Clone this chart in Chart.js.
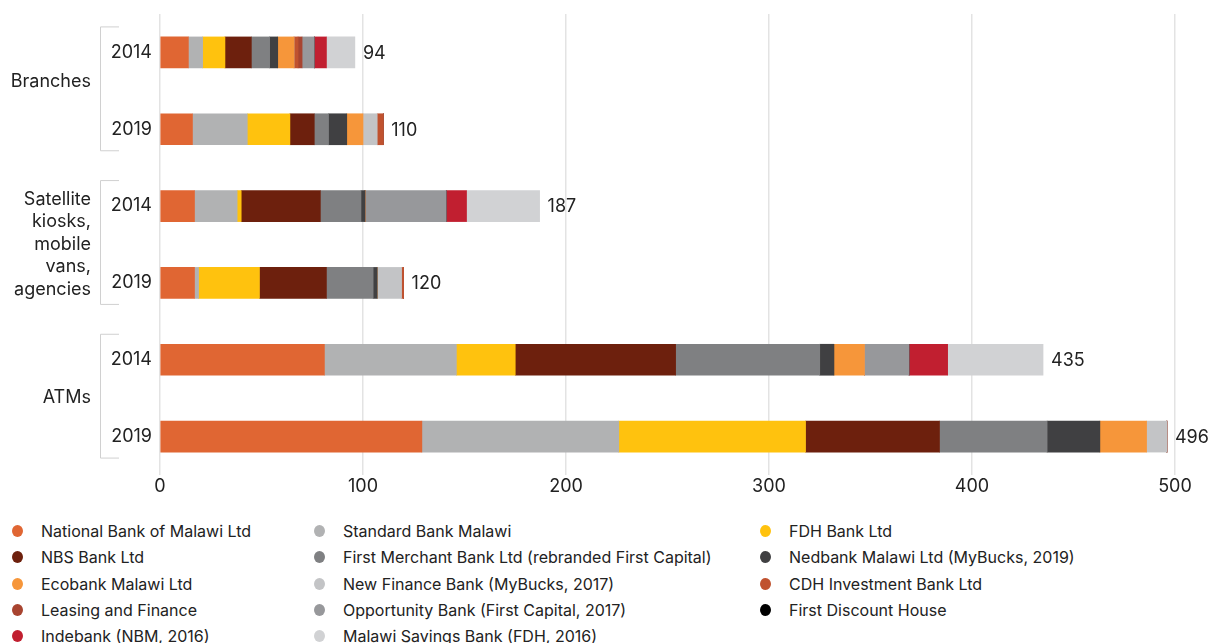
<!DOCTYPE html>
<html>
<head>
<meta charset="utf-8">
<script src="https://cdn.jsdelivr.net/npm/chart.js@4"></script>
<style>
    body { margin: 0; background: #fff; font-family: Inter, "Noto Sans", sans-serif; }
    #wrap { position: relative; width: 1213px; height: 643px; overflow: hidden; }
    #chartBox { position: absolute; left: 0; top: 0; width: 1213px; height: 505px; }
    #legend {
        position: absolute; left: 12px; top: 518px;
        display: grid; grid-template-columns: 302px 446px auto;
        font-size: 16px; color: #222; line-height: 26.3px;
    }
    .item { display: flex; align-items: center; white-space: nowrap; }
    .dot { width: 11px; height: 12px; border-radius: 50%; margin-right: 18px; flex: none; }
</style>
</head>
<body>
<div id="wrap">
    <div id="chartBox"><canvas id="barChart"></canvas></div>
    <div id="legend"></div>
</div>
<script>
// categories: Branches 2014/2019, Satellite 2014/2019, ATMs 2014/2019
let years = ["2014", "2019", "2014", "2019", "2014", "2019"];
let groups = ["Branches", ["Satellite", "kiosks,", "mobile", "vans,", "agencies"], "ATMs"];
let totals = [94, 110, 187, 120, 435, 496];
let xTicks = [0, 100, 200, 300, 400, 500];

let banks = [
    "National Bank of Malawi Ltd", "Standard Bank Malawi", "FDH Bank Ltd",
    "NBS Bank Ltd", "First Merchant Bank Ltd (rebranded First Capital)", "Nedbank Malawi Ltd (MyBucks, 2019)",
    "Ecobank Malawi Ltd", "New Finance Bank (MyBucks, 2017)", "CDH Investment Bank Ltd",
    "Leasing and Finance", "Opportunity Bank (First Capital, 2017)", "First Discount House",
    "Indebank (NBM, 2016)", "Malawi Savings Bank (FDH, 2016)"
];
let colors = [
    "#E06633", "#B1B2B3", "#FFC20E",
    "#6D200D", "#7F8082", "#404042",
    "#F6963A", "#C3C4C6", "#C0522F",
    "#A84430", "#97989B", "#000000",
    "#C11F30", "#D1D2D4"
];

let nbm        = [14, 16, 17, 17, 81, 129];
let standard   = [7, 27, 21, 2, 65, 97];
let fdh        = [11, 21, 2, 30, 29, 92];
let nbs        = [13, 12, 39, 33, 79, 66];
let fmb        = [9, 7, 20, 23, 71, 53];
let nedbank    = [4, 9, 2, 2, 7, 26];
let ecobank    = [8, 8, 0, 0, 15, 23];
let newFinance = [0, 7, 0, 12, 0, 10];
let cdh        = [2, 3, 0, 1, 0, 0];
let leasing    = [2, 0, 0, 0, 0, 0];
let opportunity = [6, 0, 40, 0, 22, 0];
let discount   = [0, 0, 0, 0, 0, 0];
let indebank   = [6, 0, 10, 0, 19, 0];
let savings    = [14, 0, 36, 0, 47, 0];

let series = [nbm, standard, fdh, nbs, fmb, nedbank, ecobank, newFinance, cdh, leasing, opportunity, discount, indebank, savings];

let datasets = series.map((s, i) => ({
    label: banks[i],
    data: s,
    backgroundColor: colors[i],
    borderWidth: 0,
    barThickness: 31
}));

// html legend, 3 columns
let legend = document.getElementById("legend");
banks.forEach((b, i) => {
    let el = document.createElement("div");
    el.className = "item";
    el.innerHTML = `<span class="dot" style="background:${colors[i]}"></span><span>${b}</span>`;
    legend.appendChild(el);
});

// total labels at end of each bar
let totalsPlugin = {
    id: "totals",
    afterDatasetsDraw(chart) {
        let ctx = chart.ctx;
        let xs = chart.scales.x, ys = chart.scales.y;
        ctx.save();
        ctx.font = "18px Inter";
        ctx.fillStyle = "#222";
        ctx.textBaseline = "middle";
        totals.forEach((t, i) => {
            let sum = series.reduce((a, s) => a + s[i], 0);
            ctx.fillText(String(t), xs.getPixelForValue(sum) + 8, ys.getPixelForValue(i) + 1);
        });
        ctx.restore();
    }
};

// outer group labels + brackets
let groupPlugin = {
    id: "groups",
    afterDraw(chart) {
        let ctx = chart.ctx;
        let ys = chart.scales.y;
        let shift = [-9, 0, -1];
        ctx.save();
        ctx.font = "18px Inter";
        ctx.fillStyle = "#222";
        ctx.textAlign = "right";
        ctx.textBaseline = "middle";
        groups.forEach((g, k) => {
            let y1 = ys.getPixelForValue(k * 2);
            let y2 = ys.getPixelForValue(k * 2 + 1);
            let mid = (y1 + y2) / 2 + shift[k];
            let lines = Array.isArray(g) ? g : [g];
            let lh = 22.5;
            lines.forEach((ln, j) => {
                ctx.fillText(ln, 91, mid + (j - (lines.length - 1) / 2) * lh);
            });
            // bracket
            ctx.strokeStyle = "#d0d0d0";
            ctx.lineWidth = 1;
            ctx.beginPath();
            ctx.moveTo(119, y1 - 25.5);
            ctx.lineTo(100.5, y1 - 25.5);
            ctx.lineTo(100.5, y2 + 21.5);
            ctx.lineTo(119, y2 + 21.5);
            ctx.stroke();
        });
        ctx.restore();
    }
};

let barChart = new Chart(document.getElementById("barChart"), {
    type: "bar",
    data: { labels: years, datasets: datasets },
    options: {
        indexAxis: "y",
        responsive: true,
        maintainAspectRatio: false,
        animation: false,
        layout: { padding: { top: 14, right: 38, left: 0, bottom: 0 } },
        plugins: { legend: { display: false }, tooltip: { enabled: false } },
        scales: {
            x: {
                stacked: true,
                min: 0,
                max: 500,
                afterBuildTicks: s => { s.ticks = xTicks.map(v => ({ value: v })); },
                afterFit: s => { s.height = 30; s.paddingLeft = 0; s.paddingRight = 0; },
                grid: { color: "#e3e3e3", lineWidth: 1.5, drawTicks: false },
                border: { display: false },
                ticks: { color: "#222", font: { family: "Inter", size: 18 }, padding: 1 }
            },
            y: {
                stacked: true,
                afterFit: s => { s.width = 160; s.paddingTop = 0; s.paddingBottom = 0; },
                grid: { display: false, drawTicks: false },
                border: { display: false },
                ticks: { color: "#222", font: { family: "Inter", size: 18 }, padding: 8 }
            }
        }
    },
    plugins: [totalsPlugin, groupPlugin]
});
</script>
</body>
</html>
